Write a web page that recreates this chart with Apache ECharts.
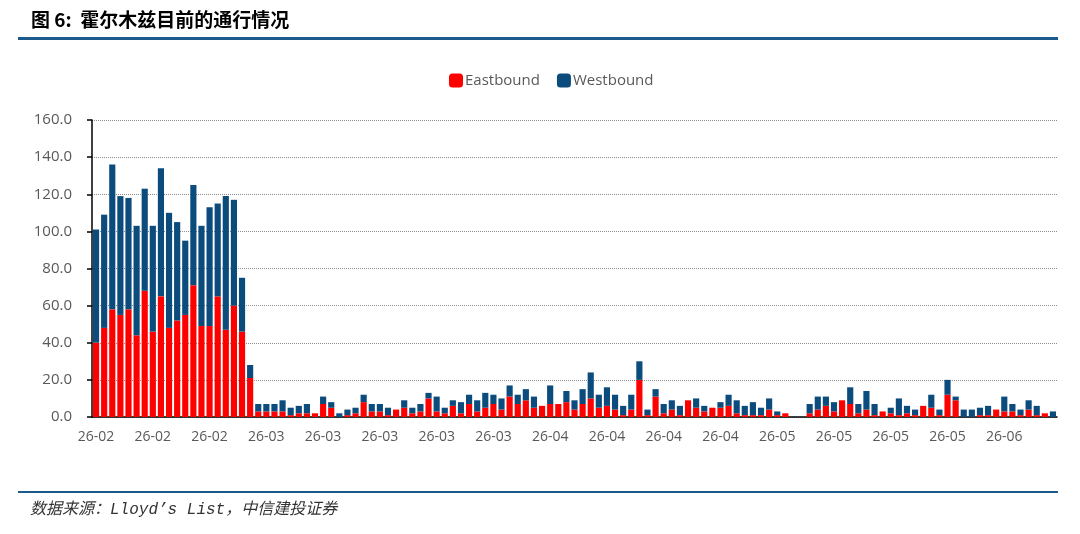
<!DOCTYPE html>
<html>
<head>
<meta charset="utf-8">
<script src="https://cdn.jsdelivr.net/npm/echarts@6/dist/echarts.min.js"></script>
<style>
  html, body { margin: 0; padding: 0; background: #fff; }
  #main { width: 1080px; height: 534px; }
</style>
</head>
<body>
<div id="main"></div>
<script>
// one label per week, 7 daily bars per label
const weekLabels = ['26-02', '26-02', '26-02', '26-03', '26-03', '26-03', '26-03', '26-03',
    '26-04', '26-04', '26-04', '26-04', '26-05', '26-05', '26-05', '26-05', '26-06'];

const eastbound = [
    40, 48, 58, 55, 58, 44, 68, 46, 65, 48, 52, 55, 71, 49, 49, 65, 47, 60, 46, 21,
    3, 3, 3, 3, 1, 2, 2, 2, 7, 5,
    0, 1, 2, 8, 3, 3, 1, 4, 5, 2,
    3, 10, 3, 2, 6, 2, 7, 3, 5, 7,
    4, 11, 7, 9, 5, 6, 7, 7, 8, 4,
    7, 10, 5, 6, 4, 1, 4, 20, 1, 11,
    2, 4, 1, 9, 5, 3, 5, 5, 6, 2,
    1, 1, 1, 4, 1, 2, 0, 0, 2, 4,
    6, 3, 9, 7, 2, 4, 1, 3, 2, 1,
    2, 1, 6, 5, 1, 12, 9, 0, 0, 1,
    1, 4, 3, 3, 1, 4, 1, 2, 0
];

const westbound = [
    61, 61, 78, 64, 60, 59, 55, 57, 69, 62, 53, 40, 54, 54, 64, 50, 72, 57, 29, 7,
    4, 4, 4, 6, 4, 4, 5, 0, 4, 3,
    2, 3, 3, 4, 4, 4, 4, 0, 4, 3,
    4, 3, 8, 3, 3, 6, 5, 6, 8, 5,
    6, 6, 5, 6, 6, 0, 10, 0, 6, 5,
    8, 14, 7, 10, 8, 5, 8, 10, 3, 4,
    5, 5, 5, 0, 5, 3, 0, 3, 6, 7,
    5, 7, 4, 6, 2, 0, 0, 0, 5, 7,
    5, 5, 0, 9, 5, 10, 6, 0, 3, 9,
    4, 3, 0, 7, 3, 8, 2, 4, 4, 4,
    5, 0, 8, 4, 3, 5, 5, 0, 3
];

const categories = eastbound.map(function (v, i) {
    return weekLabels[Math.floor(i / 7)];
});

function everyWeek(index) {
    return index % 7 === 0;
}

const chart = echarts.init(document.getElementById('main'));

chart.setOption({
    animation: false,
    backgroundColor: '#fff',
    title: {
        text: '图 6:  霍尔木兹目前的通行情况',
        left: 31,
        top: 10,
        padding: 0,
        textStyle: {
            fontFamily: '"Noto Sans CJK SC"',
            fontSize: 19,
            fontWeight: 'bold',
            color: '#000'
        }
    },
    legend: {
        left: 449,
        top: 73,
        padding: 0,
        itemWidth: 14,
        itemHeight: 14,
        itemGap: 17,
        icon: 'roundRect',
        textStyle: {
            fontFamily: '"Open Sans"',
            fontSize: 15,
            color: '#595959',
            padding: [0, 0, 0, -3]
        }
    },
    grid: {
        left: 92,
        right: 23,
        top: 120,
        bottom: 117
    },
    xAxis: {
        type: 'category',
        data: categories,
        boundaryGap: true,
        axisLine: { lineStyle: { color: '#000', width: 1.5 } },
        axisTick: {
            interval: everyWeek,
            length: 5,
            lineStyle: { color: '#000', width: 1.5 }
        },
        axisLabel: {
            interval: everyWeek,
            margin: 13,
            fontFamily: '"Open Sans"',
            fontSize: 14,
            color: '#595959'
        }
    },
    yAxis: {
        type: 'value',
        min: 0,
        max: 160,
        interval: 20,
        axisLine: { show: true, lineStyle: { color: '#000', width: 1.5 } },
        axisTick: { show: true, length: 5, lineStyle: { color: '#000', width: 1.5 } },
        axisLabel: {
            margin: 20,
            fontFamily: '"Open Sans"',
            fontSize: 15,
            color: '#595959',
            formatter: function (v) { return v.toFixed(1); }
        },
        splitLine: { lineStyle: { color: '#8c8c8c', type: 'dotted', width: 1 } }
    },
    series: [
        {
            name: 'Eastbound',
            type: 'bar',
            stack: 'total',
            barCategoryGap: '24%',
            itemStyle: { color: '#ff0000' },
            data: eastbound
        },
        {
            name: 'Westbound',
            type: 'bar',
            stack: 'total',
            barCategoryGap: '24%',
            itemStyle: { color: '#0b4c7d' },
            data: westbound
        }
    ],
    graphic: [
        {
            type: 'rect',
            left: 18,
            top: 37,
            shape: { width: 1040, height: 3 },
            style: { fill: '#1b5a8a' }
        },
        {
            type: 'rect',
            left: 18,
            top: 491,
            shape: { width: 1040, height: 2 },
            style: { fill: '#1b5a8a' }
        },
        {
            type: 'text',
            left: 30,
            top: 502,
            style: {
                text: '数据来源：Lloyd\u2019s List，中信建投证券',
                fontFamily: '"Liberation Mono", "Noto Sans CJK SC"',
                fontStyle: 'italic',
                fontSize: 16,
                fill: '#333'
            }
        }
    ]
});
</script>
</body>
</html>
